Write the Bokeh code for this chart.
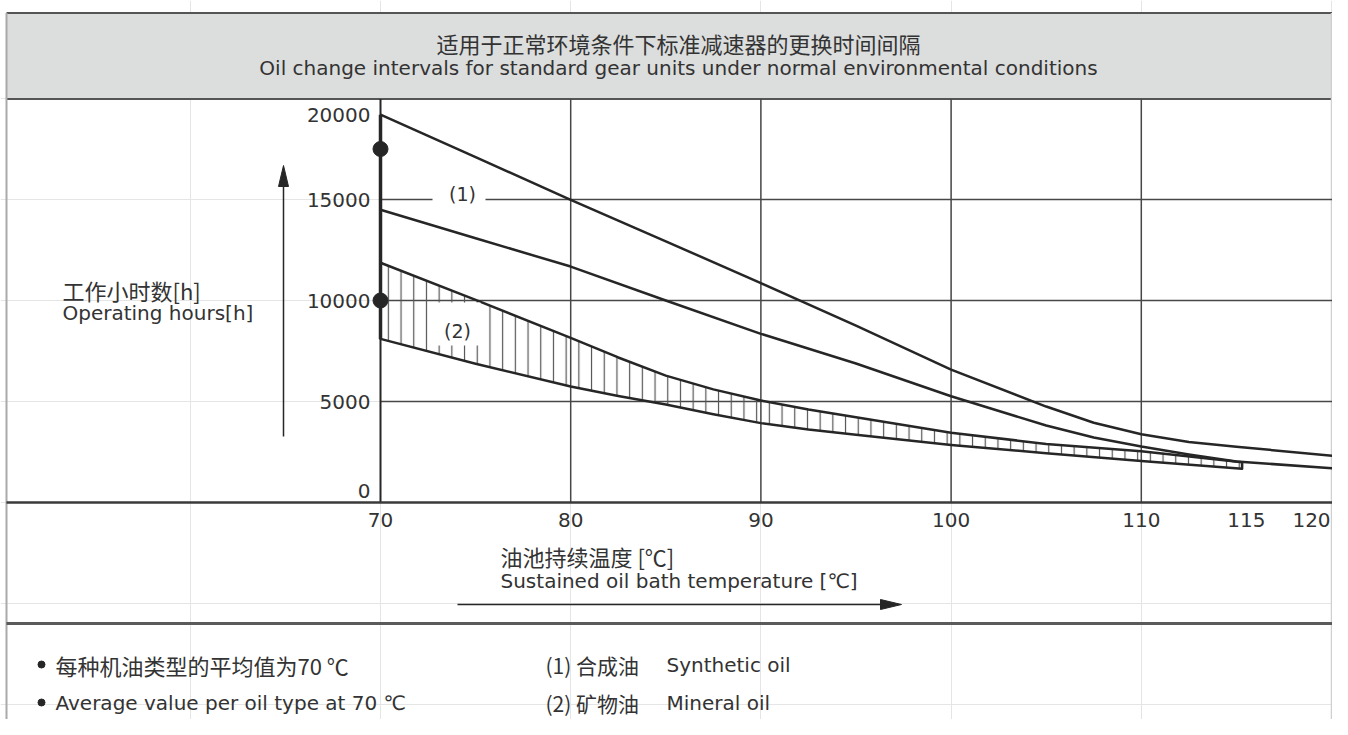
from bokeh.plotting import figure
from bokeh.models import Range1d
from bokeh.core.properties import value
from bokeh.embed import file_html
from bokeh.resources import INLINE

# ---------------- data ----------------
title_cn = "适用于正常环境条件下标准减速器的更换时间间隔"
title_en = "Oil change intervals for standard gear units under normal environmental conditions"
y_label_cn = "工作小时数[h]"
y_label_en = "Operating hours[h]"
x_label_cn = "油池持续温度 [℃]"
x_label_en = "Sustained oil bath temperature [℃]"

y_ticks = [0, 5000, 10000, 15000, 20000]
y_tick_labels = ["0", "5000", "10000", "15000", "20000"]
x_ticks = [70, 80, 90, 100, 110, 115, 120]
x_tick_labels = ["70", "80", "90", "100", "110", "115", "120"]
x_grid = [80, 90, 100, 110]
y_grid = [5000, 10000, 15000]

# (1) synthetic oil band
syn_t = [70, 75, 80, 85, 90, 95, 100, 105, 107.5, 110, 112.5, 115, 120.4]
syn_hi = [19200, 17100, 14980, 12930, 10860, 8760, 6580, 4750, 3950, 3380, 3000, 2760, 2280]
syn_lo = [14490, 13080, 11680, 10000, 8350, 6880, 5260, 3810, 3220, 2770, 2380, 2030, 1670]

# (2) mineral oil band
min_t = [70, 75, 80, 82.5, 85, 87.5, 90, 92.5, 95, 100, 105, 110, 115.3]
min_hi = [11870, 10030, 8150, 7180, 6280, 5600, 5050, 4600, 4220, 3450, 2900, 2540, 1990]
min_lo = [8100, 6870, 5740, 5270, 4850, 4370, 3930, 3610, 3350, 2850, 2440, 2060, 1670]

# average value per oil type at 70 °C
avg_t = [70, 70]
avg_h = [17500, 10000]

band_labels = ["(1)", "(2)"]
legend_left = ["每种机油类型的平均值为70 ℃", "Average value per oil type at 70 ℃"]
legend_right_cn = ["(1) 合成油", "(2) 矿物油"]
legend_right_en = ["Synthetic oil", "Mineral oil"]

# ---------------- layout helpers (picture pixel -> data) ----------------
W, H = 1332, 719
ORIG = 0
SX = 19.02          # px per degC
SY = 101.0 / 5000   # px per hour
PX0, PY0 = 380, 502


def dx(px):
    return 70 + (px - PX0) / SX


def dy(py):
    return (PY0 - py) / SY


INK = "#262626"
TXT = "#333333"
GRID = "#474747"
LAT = value("DejaVu Sans")
CJK = value("Noto Sans CJK SC")

p = figure(width=W, height=H,
           x_range=Range1d(dx(ORIG), dx(ORIG + W)),
           y_range=Range1d(dy(ORIG + H), dy(ORIG)),
           output_backend="svg", toolbar_location=None,
           x_axis_location=None, y_axis_location=None,
           min_border=0, outline_line_color=None,
           background_fill_color="white", border_fill_color="white")

# header band and frame
p.quad(left=[dx(6)], right=[dx(1346)], top=[dy(12.5)], bottom=[dy(98.5)],
       fill_color="#dcdddd", line_color=None)
p.segment(x0=[dx(6), dx(6)], y0=[dy(12.5), dy(98.5)],
          x1=[dx(1346), dx(1346)], y1=[dy(12.5), dy(98.5)],
          line_color="#555555", line_width=2)
p.segment(x0=[dx(6)], y0=[dy(12.5)], x1=[dx(6)], y1=[dy(740)],
          line_color="#aaaaaa", line_width=2)
p.segment(x0=[dx(1331)], y0=[dy(12.5)], x1=[dx(1331)], y1=[dy(740)],
          line_color="#d0d0d0", line_width=1.5)

# grid lines
p.segment(x0=x_grid, y0=0, x1=x_grid, y1=dy(98.5), line_color=GRID, line_width=1.5)
p.segment(x0=70, y0=y_grid, x1=dx(1346), y1=y_grid, line_color=GRID, line_width=1.5)
p.segment(x0=[70], y0=[0], x1=[70], y1=[dy(98.5)], line_color=INK, line_width=2)
# base line and legend separator
p.segment(x0=[dx(6)], y0=[0], x1=[dx(1346)], y1=[0], line_color="#3a3a3a", line_width=2.5)
p.segment(x0=[dx(6)], y0=[dy(623)], x1=[dx(1346)], y1=[dy(623)],
          line_color="#5a5a5a", line_width=3)

# mineral oil band (hatched)
p.patch(x=min_t + min_t[::-1], y=min_hi + min_lo[::-1],
        fill_color=None, line_color=INK, line_width=2.5, line_join="round",
        hatch_pattern="vertical_line", hatch_scale=12.7,
        hatch_color="#555555", hatch_weight=1.2)

# white boxes behind band labels
p.rect(x=[dx(458.5), dx(456.5)], y=[15000, dy(323.5)],
       width=[53, 47], height=[16, 43],
       width_units="screen", height_units="screen",
       fill_color="white", line_color=None)
p.text(x=[dx(462), dx(457)], y=[dy(193), dy(330)], text=band_labels,
       text_font=LAT, text_font_size="19px", text_color=TXT,
       text_align="center", text_baseline="middle")

# synthetic oil band
p.line(x=syn_t + syn_t[::-1], y=syn_hi + syn_lo[::-1],
       line_color=INK, line_width=2.5, line_join="round")

# thick part of the 70 degC axis
p.segment(x0=[70], y0=[syn_hi[0]], x1=[70], y1=[min_lo[0]], line_color=INK, line_width=3.5)

# average points
p.scatter(avg_t, avg_h, size=15, color=INK)

# y tick labels
p.text(x=[70] * len(y_ticks), y=y_ticks, text=y_tick_labels,
       x_offset=-10, y_offset=[-12, 0, 0, 0, 16],
       text_font=LAT, text_font_size="20px", text_color=TXT,
       text_align="right", text_baseline="middle")
# x tick labels (last one kept inside the picture)
p.text(x=x_ticks, y=[0] * len(x_ticks), text=x_tick_labels,
       x_offset=[0, 0, 0, 0, 0, 10, -20], y_offset=17,
       text_font=LAT, text_font_size="20px", text_color=TXT,
       text_align="center", text_baseline="middle")

# titles
p.text(x=[dx(678)], y=[dy(42)], text=[title_cn], text_font=CJK,
       text_font_size="22px", text_color=TXT, text_align="center", text_baseline="middle")
p.text(x=[dx(678)], y=[dy(67.5)], text=[title_en], text_font=LAT,
       text_font_size="20px", text_color=TXT, text_align="center", text_baseline="middle")

# y caption and arrow
p.text(x=[dx(62)], y=[dy(289)], text=[y_label_cn], text_font=CJK,
       text_font_size="22px", text_color=TXT, text_align="left", text_baseline="middle")
p.text(x=[dx(62)], y=[dy(312)], text=[y_label_en], text_font=LAT,
       text_font_size="20px", text_color=TXT, text_align="left", text_baseline="middle")
p.segment(x0=[dx(283)], y0=[dy(436)], x1=[dx(283)], y1=[dy(180)], line_color=INK, line_width=1.5)
p.patch(x=[dx(283), dx(278), dx(288)], y=[dy(165), dy(186), dy(186)],
        fill_color=INK, line_color=INK)

# x caption and arrow
p.text(x=[dx(500)], y=[dy(555)], text=[x_label_cn], text_font=CJK,
       text_font_size="22px", text_color=TXT, text_align="left", text_baseline="middle")
p.text(x=[dx(500)], y=[dy(580)], text=[x_label_en], text_font=LAT,
       text_font_size="20px", text_color=TXT, text_align="left", text_baseline="middle")
p.segment(x0=[dx(457)], y0=[dy(604)], x1=[dx(885)], y1=[dy(604)], line_color=INK, line_width=1.5)
p.patch(x=[dx(901), dx(880), dx(880)], y=[dy(604), dy(599), dy(609)],
        fill_color=INK, line_color=INK)

# legend
p.scatter(x=[dx(41), dx(41)], y=[dy(664), dy(702)], size=7, color=INK)
p.text(x=[dx(55)], y=[dy(664)], text=[legend_left[0]], text_font=CJK,
       text_font_size="22px", text_color=TXT, text_align="left", text_baseline="middle")
p.text(x=[dx(55)], y=[dy(702)], text=[legend_left[1]], text_font=LAT,
       text_font_size="20px", text_color=TXT, text_align="left", text_baseline="middle")
p.text(x=[dx(545), dx(545)], y=[dy(664), dy(702)], text=legend_right_cn, text_font=CJK,
       text_font_size="21px", text_color=TXT, text_align="left", text_baseline="middle")
p.text(x=[dx(666), dx(666)], y=[dy(664), dy(702)], text=legend_right_en, text_font=LAT,
       text_font_size="20px", text_color=TXT, text_align="left", text_baseline="middle")

open("out.html", "w").write(file_html(p, INLINE))
